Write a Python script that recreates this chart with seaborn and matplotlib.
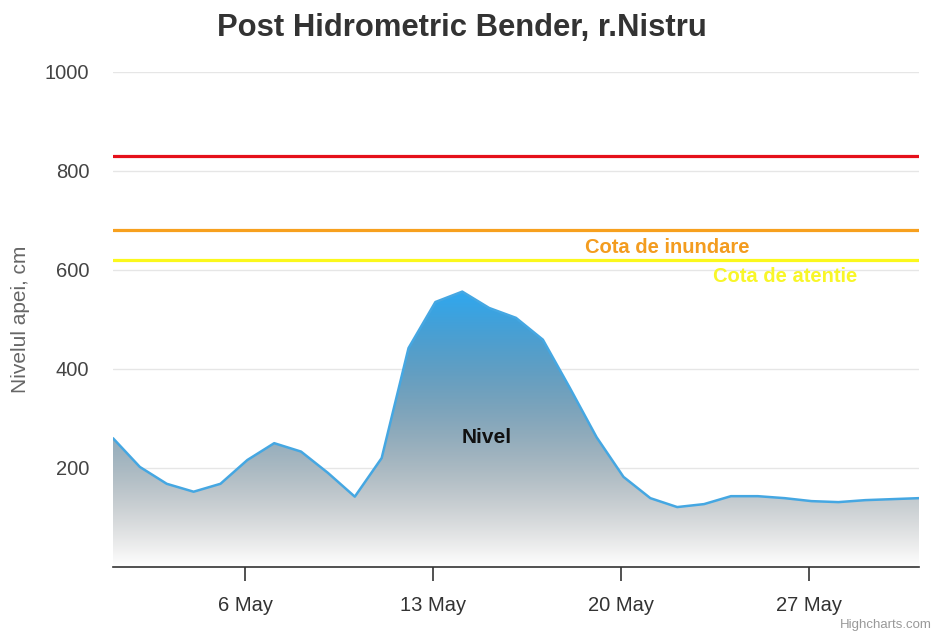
import numpy as np
import pandas as pd
import matplotlib
matplotlib.use('Agg')
import matplotlib.pyplot as plt
import matplotlib.dates as mdates
import seaborn as sns

# Data (water level, cm) - 1..31 May
days = pd.date_range('2019-05-01 02:00', periods=31, freq='D')
levels = [260, 202, 168, 152, 168, 216, 250, 233, 190, 142,
          220, 442, 535, 556, 523, 503, 459, 362, 262, 182,
          139, 121, 127, 143, 143, 139, 133, 131, 135, 137, 139]
y_ticks = [200, 400, 600, 800, 1000]
tick_days = [6, 13, 20, 27]

# warning levels
cota_critica = 830
cota_inundare = 680
cota_atentie = 620

df = pd.DataFrame({'Data': days, 'Nivel': levels})

sns.set_style('white')
plt.rcParams['font.family'] = ['Liberation Sans', 'DejaVu Sans']

fig = plt.figure(figsize=(9.36, 6.31), dpi=100)
ax = fig.add_axes([113 / 936, 64 / 631, 806 / 936, 495.3 / 631])

# gradient area (blue -> transparent black, over white)
xnum = mdates.date2num(df['Data'])
vmax = max(levels)
poly = ax.fill_between(xnum, 0, df['Nivel'], color='none', lw=0)
t = np.linspace(0, 1, 256)[:, None]
blue = np.array([47, 168, 240]) / 255
rgb = blue[None, :] * (1 - t) ** 2 + t
img = np.concatenate([rgb, np.ones((256, 1))], axis=1)[:, None, :]
im = ax.imshow(img[::-1], extent=[xnum[0], xnum[-1], 0, vmax], origin='lower',
               aspect='auto', zorder=1)
path = poly.get_paths()[0]
im.set_clip_path(path, transform=ax.transData)

sns.lineplot(data=df, x='Data', y='Nivel', color='#45a7e2', lw=1.8, ax=ax, zorder=3)

for v, c in [(cota_critica, '#e5101a'), (cota_inundare, '#f7a01e'), (cota_atentie, '#fbf81c')]:
    ax.axhline(v, color=c, lw=2.3, zorder=4)

ax.text(pd.Timestamp('2019-05-21 17:00'), 646, 'Cota de inundare', color='#f39c1f',
        fontsize=14.5, fontweight='bold', ha='center', va='center', zorder=5)
ax.text(pd.Timestamp('2019-05-26 02:00'), 586, 'Cota de atentie', color='#f8f628',
        fontsize=14.5, fontweight='bold', ha='center', va='center', zorder=5)
ax.text(pd.Timestamp('2019-05-15 00:00'), 261, 'Nivel', color='#111111',
        fontsize=15, fontweight='bold', ha='center', va='center', zorder=5)

ax.set_ylim(0, 1000)
ax.set_xlim(xnum[0], xnum[-1])
ax.set_yticks(y_ticks)
ax.yaxis.grid(True, color='#e6e6e6', lw=1)
ax.set_axisbelow(True)
ax.xaxis.set_major_locator(mdates.DayLocator(bymonthday=tick_days))
ax.xaxis.set_major_formatter(mdates.DateFormatter('%-d %b'))

for s in ['top', 'right', 'left']:
    ax.spines[s].set_visible(False)
ax.spines['bottom'].set_color('#333333')
ax.spines['bottom'].set_linewidth(1.2)
ax.tick_params(axis='x', length=10, width=1.2, color='#333333', pad=11,
               labelsize=14.5, labelcolor='#333333', direction='out', bottom=True)
ax.tick_params(axis='y', length=0, pad=17, labelsize=14.5, labelcolor='#444444')

ax.set_xlabel('')
ax.set_ylabel('Nivelul apei, cm', fontsize=15, color='#666666', labelpad=11)

fig.text(462 / 936, 1 - 28 / 631, 'Post Hidrometric Bender, r.Nistru', ha='center',
         va='center', fontsize=22.3, fontweight='bold', color='#333333')
fig.text(932 / 936, 1 - 625 / 631, 'Highcharts.com', ha='right', va='center',
         fontsize=9.5, color='#999999')

fig.savefig('out.png', dpi=100)
